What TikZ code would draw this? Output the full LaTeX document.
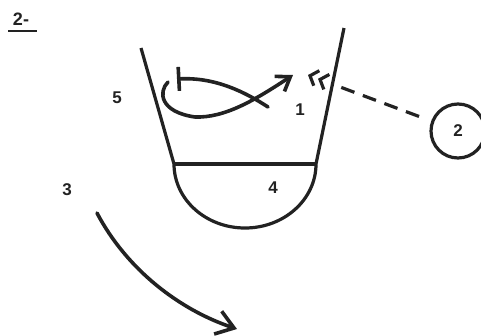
\documentclass[tikz,border=0pt]{standalone}
\usepackage{fontspec}
\setmainfont{Liberation Sans}
\usetikzlibrary{arrows.meta}
\definecolor{ink}{HTML}{222222}
\begin{document}
\begin{tikzpicture}[x=1pt,y=-1pt,
  lane/.style={draw=ink, line width=3.2pt},
  move/.style={draw=ink, line width=3.6pt, line cap=round},
  num/.style={font=\bfseries\fontsize{17}{17}\selectfont, text=ink, inner sep=0pt},
  ]
\useasboundingbox (0,0) rectangle (481,335);
\fill[white] (0,0) rectangle (481,335);
% title
\node[num, font=\bfseries\fontsize{18}{18}\selectfont] (title) at (21,19) {2-};
\draw[ink, line width=2pt] (8,31) -- (37,31);
% lane
\draw[lane] (141,48) -- (174,164) arc[start angle=180, end angle=0, x radius=71, y radius=64] -- (344,28);
\draw[lane] (174,164) -- (316,164);
% labels
\node[num] (p5) at (117,98) {5};
\node[num] (p1) at (300,110) {1};
\node[num] (p3) at (67,190) {3};
\node[num] (p4) at (273,188) {4};
\node[num, circle, draw=ink, line width=3.2pt, minimum size=54pt] (p2) at (458,131) {2};
% coordinates
\coordinate (passend) at (308,75);
\coordinate (screenstart) at (268,107);
\coordinate (screenend) at (177,79);
\coordinate (cutstart) at (168,82);
\coordinate (cutmid) at (195,117);
\coordinate (cutend) at (293,75);
\coordinate (run3start) at (97,213);
\coordinate (run3end) at (237,329);
% pass
\draw[ink, line width=3.2pt, shorten <=13pt,
  dash pattern=on 14pt off 9pt on 14pt off 9pt on 14pt off 9pt on 14pt off 60pt,
  -{Straight Barb[length=7pt,width=16pt]Straight Barb[length=7pt,width=16pt]}]
  (p2) -- (passend);
% screen
\draw[move, -{Bar[width=24pt]}] (screenstart) .. controls (245,92) and (215,77) .. (screenend);
% cut
\draw[move, -{Straight Barb[length=13pt,width=18pt]}] (cutstart) .. controls (158,92) and (160,112) .. (cutmid)
  .. controls (225,118) and (255,100) .. (cutend);
% run of 3
\draw[move, -{Straight Barb[length=17pt,width=24pt]}] (run3start) .. controls (127,270) and (180,310) .. (run3end);
\end{tikzpicture}
\end{document}
